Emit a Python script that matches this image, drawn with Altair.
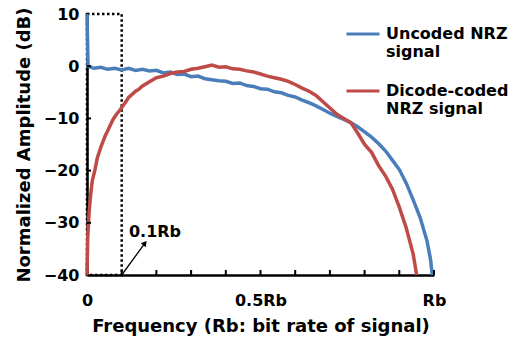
import altair as alt
import pandas as pd

# Uncoded NRZ signal (blue)
blue_f = [0, 0.003, 0.02, 0.04, 0.06, 0.08, 0.10, 0.12, 0.14, 0.16, 0.18, 0.20, 0.22, 0.24, 0.26,
          0.28, 0.30, 0.32, 0.34, 0.36, 0.38, 0.40, 0.42, 0.44, 0.46, 0.48, 0.50, 0.52, 0.54, 0.56,
          0.58, 0.60, 0.62, 0.64, 0.66, 0.68, 0.70, 0.72, 0.74, 0.76, 0.78, 0.80, 0.82, 0.84, 0.86,
          0.88, 0.90, 0.92, 0.94, 0.96, 0.98, 0.99, 0.995]
blue_db = [10, 0, -0.4, -0.2, -0.6, -0.4, -0.7, -0.4, -0.8, -0.6, -0.9, -0.8, -1.3, -1.1, -1.6,
           -1.5, -2.0, -1.9, -2.4, -2.6, -2.8, -2.9, -3.3, -3.2, -3.7, -3.9, -4.3, -4.4, -4.9, -5.1,
           -5.6, -5.9, -6.5, -7.0, -7.6, -8.3, -9.0, -9.6, -10.2, -10.8, -11.6, -12.6, -13.6, -14.8, -16.2,
           -18.0, -19.8, -22.4, -25.6, -29.0, -33.5, -37.0, -40]

# Dicode-coded NRZ signal (red)
red_f = [0, 0.002, 0.006, 0.01, 0.015, 0.023, 0.03, 0.04, 0.052, 0.06, 0.075, 0.085, 0.095, 0.11,
         0.12, 0.13, 0.14, 0.15, 0.16, 0.18, 0.20, 0.22, 0.24, 0.26, 0.28, 0.30, 0.32, 0.34, 0.36,
         0.38, 0.40, 0.42, 0.44, 0.46, 0.48, 0.50, 0.52, 0.54, 0.56, 0.58, 0.60, 0.62, 0.64, 0.66,
         0.68, 0.70, 0.72, 0.74, 0.76, 0.78, 0.80, 0.82, 0.84, 0.86, 0.88, 0.90, 0.92, 0.94, 0.95]
red_db = [-40, -33, -28, -25, -22, -19.8, -17.5, -15.5, -13.4, -12.3, -10.2, -9.2, -8.4, -7.0,
          -6.0, -5.4, -4.8, -4.4, -3.8, -3.0, -2.2, -1.9, -1.4, -1.1, -1.0, -0.6, -0.4, -0.1, 0.2,
          -0.2, -0.1, -0.5, -0.6, -0.9, -1.1, -1.5, -1.9, -2.2, -2.5, -2.9, -3.5, -4.2, -4.8, -5.6,
          -6.8, -8.0, -9.2, -10.0, -10.8, -12.8, -15.0, -16.5, -19.0, -21.0, -23.5, -27.0, -31.0, -36.0, -40]

series_names = ["Uncoded NRZ signal", "Dicode-coded NRZ signal"]
series_colors = ["#4A7EBB", "#BE4B48"]

x_tick_values = [0, 0.5, 1.0]
x_minor_ticks = [0.1, 0.2, 0.3, 0.4, 0.5, 0.6, 0.7, 0.8, 0.9, 1.0]
y_tick_values = [10, 0, -10, -20, -30, -40]

box = {"x": [0], "x2": [0.1], "y": [-40], "y2": [10]}
arrow = {"x": [0.1], "y": [-40], "x2": [0.167], "y2": [-33.9]}
arrow_label = {"x": [0.196], "y": [-31.8], "text": ["0.1Rb"]}

df = pd.concat([
    pd.DataFrame({"f": blue_f, "db": blue_db, "s": series_names[0]}),
    pd.DataFrame({"f": red_f, "db": red_db, "s": series_names[1]}),
])

W, H = 347, 261
FONT = "DejaVu Sans"

xs = alt.Scale(domain=[0, 1], nice=False)
ys = alt.Scale(domain=[-40, 10], nice=False)

lines = alt.Chart(df).mark_line(strokeWidth=3.5, clip=False).encode(
    x=alt.X("f:Q", scale=xs, axis=alt.Axis(
        values=x_tick_values, ticks=False, grid=False,
        labelExpr="datum.value == 0 ? '0' : (datum.value == 1 ? 'Rb' : '0.5Rb')",
        title="Frequency (Rb: bit rate of signal)", titleFontSize=18, titleFontWeight="bold",
        titlePadding=9, labelPadding=17, labelFontSize=16, labelFontWeight="bold",
        labelColor="black", titleColor="black", domainColor="black", domainWidth=2.5,
        labelFlush=False)),
    y=alt.Y("db:Q", scale=ys, axis=alt.Axis(
        values=y_tick_values, ticks=False, grid=False,
        title="Normalized Amplitude (dB)", titleFontSize=18, titleFontWeight="bold",
        titlePadding=10, labelPadding=8, labelFontSize=16, labelFontWeight="bold",
        labelColor="black", titleColor="black", domainColor="black", domainWidth=2.5)),
    color=alt.Color("s:N", scale=alt.Scale(domain=series_names, range=series_colors),
                    legend=alt.Legend(
                        orient="none", legendX=258, legendY=2, title=None,
                        symbolType="stroke", symbolSize=1089, symbolStrokeWidth=3,
                        labelFontSize=16, labelFontWeight="bold", labelColor="black",
                        labelFont=FONT, labelLimit=300, labelOffset=5, rowPadding=13,
                        labelExpr="datum.label == 'Uncoded NRZ signal' ? ['Uncoded NRZ', 'signal'] : ['Dicode-coded', 'NRZ signal']")),
)

xticks = alt.Chart(pd.DataFrame({"t": x_minor_ticks})).mark_rule(color="black", strokeWidth=2).encode(
    x=alt.X("t:Q", scale=xs), y=alt.value(H), y2=alt.value(H - 5))

yticks = alt.Chart(pd.DataFrame({"t": y_tick_values[1:-1]})).mark_rule(color="black", strokeWidth=2).encode(
    y=alt.Y("t:Q", scale=ys), x=alt.value(0), x2=alt.value(4))

rect = alt.Chart(pd.DataFrame(box)).mark_rect(
    fillOpacity=0, stroke="black", strokeWidth=2.5, strokeDash=[2.5, 2.5]).encode(
    x=alt.X("x:Q", scale=xs), x2="x2:Q", y=alt.Y("y:Q", scale=ys), y2="y2:Q")

arrow_line = alt.Chart(pd.DataFrame(arrow)).mark_rule(color="black", strokeWidth=1.3).encode(
    x=alt.X("x:Q", scale=xs), x2="x2:Q", y=alt.Y("y:Q", scale=ys), y2="y2:Q")

arrow_head = alt.Chart(pd.DataFrame(arrow)).mark_point(
    shape="triangle-up", filled=True, color="black", size=40, angle=38, opacity=1).encode(
    x=alt.X("x2:Q", scale=xs), y=alt.Y("y2:Q", scale=ys))

label = alt.Chart(pd.DataFrame(arrow_label)).mark_text(
    fontSize=16, fontWeight="bold", color="black", font=FONT).encode(
    x=alt.X("x:Q", scale=xs), y=alt.Y("y:Q", scale=ys), text="text:N")

chart = alt.layer(rect, lines, xticks, yticks, arrow_line, arrow_head, label).properties(
    width=W, height=H,
    autosize=alt.AutoSizeParams(type="none"),
    padding={"left": 87, "top": 14, "right": 80, "bottom": 64},
).configure(font=FONT).configure_view(stroke=None).configure_axis(labelFont=FONT, titleFont=FONT)

chart.save("out.html", embed_options={"renderer": "svg", "actions": False})
